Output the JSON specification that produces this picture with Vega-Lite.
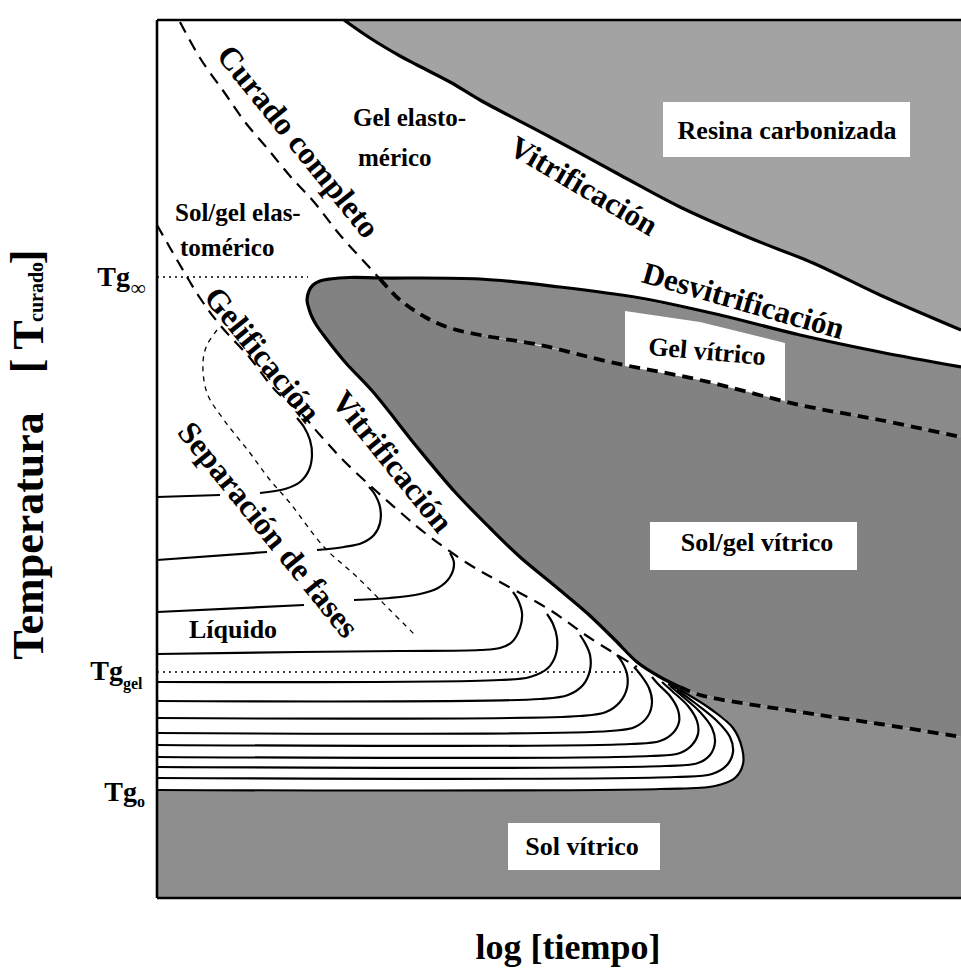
{
"$schema": "https://vega.github.io/schema/vega-lite/v6.json",
"width": 804, "height": 878,
"autosize": {"type": "none"},
"padding": {"left": 157, "top": 20, "right": 0, "bottom": 71},
"background": "white",
"config": {"view": {"stroke": null}, "text": {"font": "Liberation Serif", "fontWeight": "bold", "fill": "black"}},
"datasets": {
"resina": [{"t":187,"T":878},{"t":213,"T":860},{"t":243,"T":842},{"t":260,"T":833},{"t":293,"T":816},{"t":323,"T":798},{"t":393,"T":761},{"t":463,"T":723},{"t":523,"T":691},{"t":593,"T":660},{"t":656,"T":635},{"t":723,"T":603},{"t":804,"T":568}],
"gelvit": [{"t":223,"top":620,"bot":619},{"t":243,"top":620,"bot":598},{"t":268,"top":620,"bot":581},{"t":293,"top":619.5,"bot":570},{"t":323,"top":619,"bot":563},{"t":383,"top":613,"bot":553},{"t":453,"top":604,"bot":536},{"t":543,"top":587,"bot":518},{"t":643,"top":563,"bot":493},{"t":723,"top":546,"bot":478},{"t":804,"top":531,"bot":461}],
"solgel": [{"t":150,"top":598,"bot":598},{"t":152,"top":607,"bot":589},{"t":156,"top":613,"bot":579},{"t":160,"top":615.5,"bot":572},{"t":163,"top":617,"bot":569},{"t":173,"top":619,"bot":555},{"t":193,"top":620.5,"bot":530},{"t":223,"top":620,"bot":498},{"t":243,"top":598,"bot":472},{"t":268,"top":581,"bot":442},{"t":298,"top":569,"bot":406},{"t":333,"top":561,"bot":370},{"t":363,"top":556,"bot":341},{"t":398,"top":549,"bot":312},{"t":430,"top":542,"bot":285},{"t":458,"top":535,"bot":258},{"t":480,"top":531,"bot":236},{"t":503,"top":526,"bot":221},{"t":523,"top":522,"bot":211},{"t":543,"top":518,"bot":203},{"t":643,"top":493,"bot":186},{"t":723,"top":478,"bot":174},{"t":804,"top":461,"bot":161}],
"solvit": [{"t":0,"T":108},{"t":483,"T":108},{"t":484,"T":233},{"t":503,"T":221},{"t":523,"T":211},{"t":543,"T":203},{"t":643,"T":186},{"t":723,"T":174},{"t":804,"T":161}],
"nosewhite": [{"t":483,"top":234,"bot":108},{"t":503,"top":221,"bot":109},{"t":511,"top":215,"bot":109},{"t":530,"top":204,"bot":110},{"t":555,"top":188,"bot":112},{"t":568,"top":180,"bot":115},{"t":576,"top":170,"bot":119},{"t":582,"top":160,"bot":125},{"t":585,"top":150,"bot":131},{"t":586.5,"top":142,"bot":138}],
"boxes": [{"t1":506,"t2":753,"T1":741,"T2":796},{"t1":493,"t2":700,"T1":328,"T2":376},{"t1":351,"t2":503,"T1":28,"T2":75}],
"gelbox": [{"t":468,"top":587,"bot":532},{"t":543,"top":576,"bot":518},{"t":628,"top":555,"bot":497}],
"frame": [{"t1":0,"T1":0,"t2":0,"T2":878},{"t1":0,"T1":878,"t2":804,"T2":878},{"t1":0,"T1":0,"t2":804,"T2":0}],
"solid": [
{"id":"upper","i":0,"t":187,"T":878},{"id":"upper","i":1,"t":213,"T":860},{"id":"upper","i":2,"t":243,"T":842},{"id":"upper","i":3,"t":260,"T":833},{"id":"upper","i":4,"t":293,"T":816},{"id":"upper","i":5,"t":323,"T":798},{"id":"upper","i":6,"t":393,"T":761},{"id":"upper","i":7,"t":463,"T":723},{"id":"upper","i":8,"t":523,"T":691},{"id":"upper","i":9,"t":593,"T":660},{"id":"upper","i":10,"t":656,"T":635},{"id":"upper","i":11,"t":723,"T":603},{"id":"upper","i":12,"t":804,"T":568},
{"id":"nose","i":0,"t":804,"T":531},{"id":"nose","i":1,"t":723,"T":546},{"id":"nose","i":2,"t":643,"T":563},{"id":"nose","i":3,"t":563,"T":583},{"id":"nose","i":4,"t":483,"T":600},{"id":"nose","i":5,"t":403,"T":611},{"id":"nose","i":6,"t":323,"T":619},{"id":"nose","i":7,"t":223,"T":620},{"id":"nose","i":8,"t":193,"T":620.5},{"id":"nose","i":9,"t":173,"T":619},{"id":"nose","i":10,"t":163,"T":617},{"id":"nose","i":11,"t":156,"T":613},{"id":"nose","i":12,"t":152,"T":607},{"id":"nose","i":13,"t":150,"T":598},{"id":"nose","i":14,"t":152,"T":589},{"id":"nose","i":15,"t":155,"T":581},{"id":"nose","i":16,"t":160,"T":572},{"id":"nose","i":17,"t":168,"T":561},{"id":"nose","i":18,"t":188,"T":536},{"id":"nose","i":19,"t":217,"T":505},{"id":"nose","i":20,"t":260,"T":451},{"id":"nose","i":21,"t":298,"T":406},{"id":"nose","i":22,"t":333,"T":370},{"id":"nose","i":23,"t":363,"T":341},{"id":"nose","i":24,"t":398,"T":312},{"id":"nose","i":25,"t":430,"T":285},{"id":"nose","i":26,"t":458,"T":258},{"id":"nose","i":27,"t":480,"T":236},{"id":"nose","i":28,"t":503,"T":221},{"id":"nose","i":29,"t":523,"T":211}
],
"dashthick": [
{"id":"vit","i":0,"t":223,"T":619},{"id":"vit","i":1,"t":243,"T":598},{"id":"vit","i":2,"t":268,"T":581},{"id":"vit","i":3,"t":293,"T":570},{"id":"vit","i":4,"t":323,"T":563},{"id":"vit","i":5,"t":383,"T":553},{"id":"vit","i":6,"t":453,"T":536},{"id":"vit","i":7,"t":543,"T":518},{"id":"vit","i":8,"t":643,"T":493},{"id":"vit","i":9,"t":723,"T":478},{"id":"vit","i":10,"t":804,"T":461},
{"id":"svb","i":0,"t":523,"T":211},{"id":"svb","i":1,"t":543,"T":203},{"id":"svb","i":2,"t":643,"T":186},{"id":"svb","i":3,"t":723,"T":174},{"id":"svb","i":4,"t":804,"T":161}
],
"dashmed": [
{"id":"curado","i":0,"t":23,"T":876},{"id":"curado","i":1,"t":43,"T":840},{"id":"curado","i":2,"t":67,"T":806},{"id":"curado","i":3,"t":88,"T":776},{"id":"curado","i":4,"t":110,"T":750},{"id":"curado","i":5,"t":133,"T":722},{"id":"curado","i":6,"t":157,"T":696},{"id":"curado","i":7,"t":183,"T":663},{"id":"curado","i":8,"t":213,"T":630},{"id":"curado","i":9,"t":223,"T":619},
{"id":"gel","i":0,"t":0,"T":673},{"id":"gel","i":1,"t":23,"T":633},{"id":"gel","i":2,"t":43,"T":600},{"id":"gel","i":3,"t":63,"T":573},{"id":"gel","i":4,"t":93,"T":540},{"id":"gel","i":5,"t":118,"T":508},{"id":"gel","i":6,"t":143,"T":486},{"id":"gel","i":7,"t":163,"T":463},{"id":"gel","i":8,"t":188,"T":436},{"id":"gel","i":9,"t":218,"T":408},{"id":"gel","i":10,"t":243,"T":386},{"id":"gel","i":11,"t":268,"T":365},{"id":"gel","i":12,"t":310,"T":335},{"id":"gel","i":13,"t":343,"T":316},{"id":"gel","i":14,"t":393,"T":288},{"id":"gel","i":15,"t":433,"T":260},{"id":"gel","i":16,"t":480,"T":231}
],
"dashthin": [
{"id":"sep","i":0,"t":60,"T":568},{"id":"sep","i":1,"t":50,"T":553},{"id":"sep","i":2,"t":46,"T":536},{"id":"sep","i":3,"t":50,"T":505},{"id":"sep","i":4,"t":67,"T":478},{"id":"sep","i":5,"t":93,"T":445},{"id":"sep","i":6,"t":113,"T":418},{"id":"sep","i":7,"t":133,"T":395},{"id":"sep","i":8,"t":167,"T":351},{"id":"sep","i":9,"t":200,"T":321},{"id":"sep","i":10,"t":233,"T":288},{"id":"sep","i":11,"t":260,"T":261}
],
"dotted": [
{"id":"tginf","i":0,"t":0,"T":621},{"id":"tginf","i":1,"t":151,"T":621},
{"id":"tggel","i":0,"t":0,"T":226},{"id":"tggel","i":1,"t":483,"T":226}
],
"iso": [
{"id":"A1","i":0,"t":0,"T":401},{"id":"A1","i":1,"t":63,"T":403},
{"id":"A2","i":0,"t":103,"T":405},{"id":"A2","i":1,"t":128,"T":409},{"id":"A2","i":2,"t":143,"T":416},{"id":"A2","i":3,"t":152,"T":428},{"id":"A2","i":4,"t":155,"T":443},{"id":"A2","i":5,"t":153,"T":458},{"id":"A2","i":6,"t":147,"T":471},{"id":"A2","i":7,"t":140,"T":480},
{"id":"B1","i":0,"t":0,"T":338},{"id":"B1","i":1,"t":110,"T":346},
{"id":"B2","i":0,"t":160,"T":348},{"id":"B2","i":1,"t":187,"T":351},{"id":"B2","i":2,"t":205,"T":355},{"id":"B2","i":3,"t":217,"T":363},{"id":"B2","i":4,"t":223,"T":375},{"id":"B2","i":5,"t":223,"T":391},{"id":"B2","i":6,"t":217,"T":405},{"id":"B2","i":7,"t":212,"T":411},
{"id":"C1","i":0,"t":0,"T":286},{"id":"C1","i":1,"t":147,"T":293},
{"id":"C2","i":0,"t":197,"T":298},{"id":"C2","i":1,"t":233,"T":300},{"id":"C2","i":2,"t":263,"T":304},{"id":"C2","i":3,"t":281,"T":310},{"id":"C2","i":4,"t":293,"T":321},{"id":"C2","i":5,"t":297,"T":335},{"id":"C2","i":6,"t":293,"T":345},
{"id":"D","i":0,"t":0,"T":244},{"id":"D","i":1,"t":143,"T":246},{"id":"D","i":2,"t":243,"T":247},{"id":"D","i":3,"t":323,"T":248},{"id":"D","i":4,"t":343,"T":250},{"id":"D","i":5,"t":355,"T":256},{"id":"D","i":6,"t":363,"T":270},{"id":"D","i":7,"t":365,"T":285},{"id":"D","i":8,"t":361,"T":298},{"id":"D","i":9,"t":356,"T":306},
{"id":"E","i":0,"t":0,"T":216},{"id":"E","i":1,"t":343,"T":218},{"id":"E","i":2,"t":373,"T":221},{"id":"E","i":3,"t":391,"T":230},{"id":"E","i":4,"t":399,"T":244},{"id":"E","i":5,"t":400,"T":260},{"id":"E","i":6,"t":396,"T":274},{"id":"E","i":7,"t":390,"T":284},
{"id":"F","i":0,"t":0,"T":197},{"id":"F","i":1,"t":383,"T":199},{"id":"F","i":2,"t":411,"T":203},{"id":"F","i":3,"t":426,"T":213},{"id":"F","i":4,"t":433,"T":228},{"id":"F","i":5,"t":433,"T":243},{"id":"F","i":6,"t":428,"T":255},{"id":"F","i":7,"t":423,"T":263},
{"id":"G","i":0,"t":0,"T":180},{"id":"G","i":1,"t":423,"T":182},{"id":"G","i":2,"t":449,"T":186},{"id":"G","i":3,"t":463,"T":196},{"id":"G","i":4,"t":470,"T":210},{"id":"G","i":5,"t":470,"T":224},{"id":"G","i":6,"t":465,"T":236},{"id":"G","i":7,"t":460,"T":243},
{"id":"H","i":0,"t":0,"T":165},{"id":"H","i":1,"t":453,"T":167},{"id":"H","i":2,"t":478,"T":171},{"id":"H","i":3,"t":491,"T":182},{"id":"H","i":4,"t":495,"T":196},{"id":"H","i":5,"t":492,"T":210},{"id":"H","i":6,"t":483,"T":224},{"id":"H","i":7,"t":477,"T":231},
{"id":"I","i":0,"t":0,"T":153},{"id":"I","i":1,"t":473,"T":154},{"id":"I","i":2,"t":503,"T":157},{"id":"I","i":3,"t":516,"T":165},{"id":"I","i":4,"t":522,"T":176},{"id":"I","i":5,"t":521,"T":188},{"id":"I","i":6,"t":513,"T":202},{"id":"I","i":7,"t":501,"T":214},{"id":"I","i":8,"t":495,"T":221},
{"id":"J","i":0,"t":0,"T":141},{"id":"J","i":1,"t":493,"T":142},{"id":"J","i":2,"t":523,"T":145},{"id":"J","i":3,"t":535,"T":153},{"id":"J","i":4,"t":541,"T":164},{"id":"J","i":5,"t":540,"T":177},{"id":"J","i":6,"t":531,"T":192},{"id":"J","i":7,"t":515,"T":207},{"id":"J","i":8,"t":505,"T":216},
{"id":"K","i":0,"t":0,"T":131},{"id":"K","i":1,"t":508,"T":132},{"id":"K","i":2,"t":541,"T":135},{"id":"K","i":3,"t":553,"T":143},{"id":"K","i":4,"t":558,"T":156},{"id":"K","i":5,"t":555,"T":170},{"id":"K","i":6,"t":543,"T":186},{"id":"K","i":7,"t":525,"T":202},{"id":"K","i":8,"t":513,"T":212},
{"id":"L","i":0,"t":0,"T":120},{"id":"L","i":1,"t":518,"T":121},{"id":"L","i":2,"t":555,"T":124},{"id":"L","i":3,"t":570,"T":133},{"id":"L","i":4,"t":576,"T":146},{"id":"L","i":5,"t":573,"T":161},{"id":"L","i":6,"t":559,"T":178},{"id":"L","i":7,"t":538,"T":195},{"id":"L","i":8,"t":520,"T":208},
{"id":"M","i":0,"t":0,"T":108},{"id":"M","i":1,"t":503,"T":109},{"id":"M","i":2,"t":558,"T":112},{"id":"M","i":3,"t":578,"T":120},{"id":"M","i":4,"t":586,"T":134},{"id":"M","i":5,"t":585,"T":150},{"id":"M","i":6,"t":576,"T":170},{"id":"M","i":7,"t":555,"T":188},{"id":"M","i":8,"t":530,"T":204},{"id":"M","i":9,"t":511,"T":214}
],
"labels": [
{"grp":"h","label":"Resina carbonizada","t":630,"T":767},
{"grp":"h","label":"Sol/gel vítrico","t":600,"T":355},
{"grp":"h","label":"Sol vítrico","t":425,"T":51},
{"grp":"h","label":"Líquido","t":76,"T":268},
{"grp":"hl","label":"Gel elasto-","t":196,"T":780},
{"grp":"hl","label":"mérico","t":201,"T":740},
{"grp":"hl","label":"Sol/gel elas-","t":18,"T":685},
{"grp":"hl","label":"tomérico","t":23,"T":650},
{"grp":"gv","label":"Gel vítrico","t":550,"T":546},
{"grp":"v30","label":"Vitrificación","t":426,"T":711},
{"grp":"d16","label":"Desvitrificación","t":586,"T":596},
{"grp":"r51","label":"Curado completo","t":141,"T":756},
{"grp":"r51","label":"Gelificación","t":105,"T":543},
{"grp":"r51","label":"Vitrificación","t":235,"T":436},
{"grp":"r51","label":"Separación de fases","t":111,"T":368},
{"grp":"tg","label":"Tg","t":-27,"T":620},
{"grp":"tg","label":"Tg","t":-34,"T":226},
{"grp":"tg","label":"Tg","t":-20,"T":105},
{"grp":"inf","label":"∞","t":-26,"T":609},
{"grp":"sub","label":"gel","t":-34,"T":214},
{"grp":"sub","label":"o","t":-20,"T":96},
{"grp":"ytitle","label":"Temperatura","t":-127,"T":362},
{"grp":"ytitle","label":"[","t":-129,"T":532},
{"grp":"ytitle","label":"T","t":-127,"T":563},
{"grp":"ytitle","label":"]","t":-129,"T":641},
{"grp":"ysub","label":"curado","t":-120,"T":606},
{"grp":"xtitle","label":"log [tiempo]","t":411,"T":-50}
]
},
"layer": [
{"data":{"name":"resina"},"mark":{"type":"area","color":"#a3a3a3"},
 "encoding":{"x":{"field":"t","type":"quantitative","scale":{"domain":[0,804],"nice":false,"zero":false},"axis":null},"y":{"field":"T","type":"quantitative","scale":{"domain":[0,878],"nice":false,"zero":false},"axis":null},"y2":{"datum":878}}},
{"data":{"name":"gelvit"},"mark":{"type":"area","color":"#8a8a8a"},
 "encoding":{"x":{"field":"t","type":"quantitative","scale":{"domain":[0,804],"nice":false,"zero":false},"axis":null},"y":{"field":"top","type":"quantitative","scale":{"domain":[0,878],"nice":false,"zero":false},"axis":null},"y2":{"field":"bot"}}},
{"data":{"name":"solgel"},"mark":{"type":"area","color":"#828282"},
 "encoding":{"x":{"field":"t","type":"quantitative","scale":{"domain":[0,804],"nice":false,"zero":false},"axis":null},"y":{"field":"top","type":"quantitative","scale":{"domain":[0,878],"nice":false,"zero":false},"axis":null},"y2":{"field":"bot"}}},
{"data":{"name":"solvit"},"mark":{"type":"area","color":"#8e8e8e"},
 "encoding":{"x":{"field":"t","type":"quantitative","scale":{"domain":[0,804],"nice":false,"zero":false},"axis":null},"y":{"field":"T","type":"quantitative","scale":{"domain":[0,878],"nice":false,"zero":false},"axis":null},"y2":{"datum":0}}},
{"data":{"name":"nosewhite"},"mark":{"type":"area","color":"white"},
 "encoding":{"x":{"field":"t","type":"quantitative","scale":{"domain":[0,804],"nice":false,"zero":false},"axis":null},"y":{"field":"top","type":"quantitative","scale":{"domain":[0,878],"nice":false,"zero":false},"axis":null},"y2":{"field":"bot"}}},
{"data":{"name":"boxes"},"mark":{"type":"rect","color":"white"},
 "encoding":{"x":{"field":"t1","type":"quantitative","scale":{"domain":[0,804],"nice":false,"zero":false},"axis":null},"x2":{"field":"t2"},"y":{"field":"T1","type":"quantitative","scale":{"domain":[0,878],"nice":false,"zero":false},"axis":null},"y2":{"field":"T2"}}},
{"data":{"name":"gelbox"},"mark":{"type":"area","color":"white"},
 "encoding":{"x":{"field":"t","type":"quantitative","scale":{"domain":[0,804],"nice":false,"zero":false},"axis":null},"y":{"field":"top","type":"quantitative","scale":{"domain":[0,878],"nice":false,"zero":false},"axis":null},"y2":{"field":"bot"}}},
{"data":{"name":"iso"},"mark":{"type":"line","color":"black","strokeWidth":2.2,"interpolate":"catmull-rom"},
 "encoding":{"x":{"field":"t","type":"quantitative","scale":{"domain":[0,804],"nice":false,"zero":false},"axis":null},"y":{"field":"T","type":"quantitative","scale":{"domain":[0,878],"nice":false,"zero":false},"axis":null},"detail":{"field":"id"},"order":{"field":"i"}}},
{"data":{"name":"solid"},"mark":{"type":"line","color":"black","strokeWidth":3.2,"interpolate":"catmull-rom"},
 "encoding":{"x":{"field":"t","type":"quantitative","scale":{"domain":[0,804],"nice":false,"zero":false},"axis":null},"y":{"field":"T","type":"quantitative","scale":{"domain":[0,878],"nice":false,"zero":false},"axis":null},"detail":{"field":"id"},"order":{"field":"i"}}},
{"data":{"name":"dashthick"},"mark":{"type":"line","color":"black","strokeWidth":3.8,"strokeDash":[11,7],"interpolate":"catmull-rom"},
 "encoding":{"x":{"field":"t","type":"quantitative","scale":{"domain":[0,804],"nice":false,"zero":false},"axis":null},"y":{"field":"T","type":"quantitative","scale":{"domain":[0,878],"nice":false,"zero":false},"axis":null},"detail":{"field":"id"},"order":{"field":"i"}}},
{"data":{"name":"dashmed"},"mark":{"type":"line","color":"black","strokeWidth":2.2,"strokeDash":[12,8],"interpolate":"catmull-rom"},
 "encoding":{"x":{"field":"t","type":"quantitative","scale":{"domain":[0,804],"nice":false,"zero":false},"axis":null},"y":{"field":"T","type":"quantitative","scale":{"domain":[0,878],"nice":false,"zero":false},"axis":null},"detail":{"field":"id"},"order":{"field":"i"}}},
{"data":{"name":"dashthin"},"mark":{"type":"line","color":"black","strokeWidth":1.3,"strokeDash":[5,5],"interpolate":"catmull-rom"},
 "encoding":{"x":{"field":"t","type":"quantitative","scale":{"domain":[0,804],"nice":false,"zero":false},"axis":null},"y":{"field":"T","type":"quantitative","scale":{"domain":[0,878],"nice":false,"zero":false},"axis":null},"detail":{"field":"id"},"order":{"field":"i"}}},
{"data":{"name":"dotted"},"mark":{"type":"line","color":"black","strokeWidth":1.5,"strokeDash":[2,4]},
 "encoding":{"x":{"field":"t","type":"quantitative","scale":{"domain":[0,804],"nice":false,"zero":false},"axis":null},"y":{"field":"T","type":"quantitative","scale":{"domain":[0,878],"nice":false,"zero":false},"axis":null},"detail":{"field":"id"},"order":{"field":"i"}}},
{"data":{"name":"frame"},"mark":{"type":"rule","color":"black","strokeWidth":2.6},
 "encoding":{"x":{"field":"t1","type":"quantitative","scale":{"domain":[0,804],"nice":false,"zero":false},"axis":null},"x2":{"field":"t2"},"y":{"field":"T1","type":"quantitative","scale":{"domain":[0,878],"nice":false,"zero":false},"axis":null},"y2":{"field":"T2"}}},
{"data":{"name":"labels"},"transform":[{"filter":"datum.grp == 'h'"}],"mark":{"type":"text","fontSize":26,"align":"center","baseline":"middle"},
 "encoding":{"x":{"field":"t","type":"quantitative","scale":{"domain":[0,804],"nice":false,"zero":false},"axis":null},"y":{"field":"T","type":"quantitative","scale":{"domain":[0,878],"nice":false,"zero":false},"axis":null},"text":{"field":"label"}}},
{"data":{"name":"labels"},"transform":[{"filter":"datum.grp == 'hl'"}],"mark":{"type":"text","fontSize":25,"align":"left","baseline":"middle"},
 "encoding":{"x":{"field":"t","type":"quantitative","scale":{"domain":[0,804],"nice":false,"zero":false},"axis":null},"y":{"field":"T","type":"quantitative","scale":{"domain":[0,878],"nice":false,"zero":false},"axis":null},"text":{"field":"label"}}},
{"data":{"name":"labels"},"transform":[{"filter":"datum.grp == 'gv'"}],"mark":{"type":"text","fontSize":26,"angle":5,"align":"center","baseline":"middle"},
 "encoding":{"x":{"field":"t","type":"quantitative","scale":{"domain":[0,804],"nice":false,"zero":false},"axis":null},"y":{"field":"T","type":"quantitative","scale":{"domain":[0,878],"nice":false,"zero":false},"axis":null},"text":{"field":"label"}}},
{"data":{"name":"labels"},"transform":[{"filter":"datum.grp == 'v30'"}],"mark":{"type":"text","fontSize":31,"angle":30.5,"align":"center","baseline":"middle"},
 "encoding":{"x":{"field":"t","type":"quantitative","scale":{"domain":[0,804],"nice":false,"zero":false},"axis":null},"y":{"field":"T","type":"quantitative","scale":{"domain":[0,878],"nice":false,"zero":false},"axis":null},"text":{"field":"label"}}},
{"data":{"name":"labels"},"transform":[{"filter":"datum.grp == 'd16'"}],"mark":{"type":"text","fontSize":31,"angle":16,"align":"center","baseline":"middle"},
 "encoding":{"x":{"field":"t","type":"quantitative","scale":{"domain":[0,804],"nice":false,"zero":false},"axis":null},"y":{"field":"T","type":"quantitative","scale":{"domain":[0,878],"nice":false,"zero":false},"axis":null},"text":{"field":"label"}}},
{"data":{"name":"labels"},"transform":[{"filter":"datum.grp == 'r51'"}],"mark":{"type":"text","fontSize":32,"angle":51,"align":"center","baseline":"middle"},
 "encoding":{"x":{"field":"t","type":"quantitative","scale":{"domain":[0,804],"nice":false,"zero":false},"axis":null},"y":{"field":"T","type":"quantitative","scale":{"domain":[0,878],"nice":false,"zero":false},"axis":null},"text":{"field":"label"}}},
{"data":{"name":"labels"},"transform":[{"filter":"datum.grp == 'tg'"}],"mark":{"type":"text","fontSize":28,"align":"right","baseline":"middle"},
 "encoding":{"x":{"field":"t","type":"quantitative","scale":{"domain":[0,804],"nice":false,"zero":false},"axis":null},"y":{"field":"T","type":"quantitative","scale":{"domain":[0,878],"nice":false,"zero":false},"axis":null},"text":{"field":"label"}}},
{"data":{"name":"labels"},"transform":[{"filter":"datum.grp == 'sub'"}],"mark":{"type":"text","fontSize":16,"align":"left","baseline":"middle"},
 "encoding":{"x":{"field":"t","type":"quantitative","scale":{"domain":[0,804],"nice":false,"zero":false},"axis":null},"y":{"field":"T","type":"quantitative","scale":{"domain":[0,878],"nice":false,"zero":false},"axis":null},"text":{"field":"label"}}},
{"data":{"name":"labels"},"transform":[{"filter":"datum.grp == 'inf'"}],"mark":{"type":"text","fontSize":21,"align":"left","baseline":"middle"},
 "encoding":{"x":{"field":"t","type":"quantitative","scale":{"domain":[0,804],"nice":false,"zero":false},"axis":null},"y":{"field":"T","type":"quantitative","scale":{"domain":[0,878],"nice":false,"zero":false},"axis":null},"text":{"field":"label"}}},
{"data":{"name":"labels"},"transform":[{"filter":"datum.grp == 'ytitle'"}],"mark":{"type":"text","fontSize":44,"angle":270,"align":"center","baseline":"middle"},
 "encoding":{"x":{"field":"t","type":"quantitative","scale":{"domain":[0,804],"nice":false,"zero":false},"axis":null},"y":{"field":"T","type":"quantitative","scale":{"domain":[0,878],"nice":false,"zero":false},"axis":null},"text":{"field":"label"}}},
{"data":{"name":"labels"},"transform":[{"filter":"datum.grp == 'ysub'"}],"mark":{"type":"text","fontSize":20,"angle":270,"align":"center","baseline":"middle"},
 "encoding":{"x":{"field":"t","type":"quantitative","scale":{"domain":[0,804],"nice":false,"zero":false},"axis":null},"y":{"field":"T","type":"quantitative","scale":{"domain":[0,878],"nice":false,"zero":false},"axis":null},"text":{"field":"label"}}},
{"data":{"name":"labels"},"transform":[{"filter":"datum.grp == 'xtitle'"}],"mark":{"type":"text","fontSize":36,"align":"center","baseline":"middle"},
 "encoding":{"x":{"field":"t","type":"quantitative","scale":{"domain":[0,804],"nice":false,"zero":false},"axis":null},"y":{"field":"T","type":"quantitative","scale":{"domain":[0,878],"nice":false,"zero":false},"axis":null},"text":{"field":"label"}}}
]
}
